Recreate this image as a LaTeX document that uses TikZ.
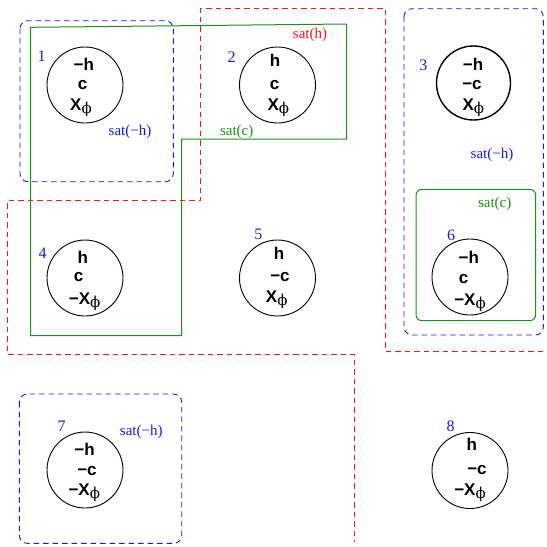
\documentclass[tikz,border=0pt]{standalone}
\usepackage{fontspec}
\setmainfont{Liberation Serif}
\newfontfamily\hvfont{Liberation Sans}
\newfontfamily\phfont{DejaVu Serif}
\definecolor{setblue}{RGB}{25,25,230}
\definecolor{setred}{RGB}{255,20,20}
\definecolor{setgreen}{RGB}{20,150,20}
\newcommand\Xph{X\raisebox{-3pt}{\mdseries\phfont\fontsize{15}{15}\selectfont ϕ}}
\newcommand\mn{−}
\tikzset{
  x=1pt, y=-1pt,
  state/.style={draw=black, line width=0.9pt},
  lit/.style={anchor=base, inner sep=0pt, font=\hvfont\bfseries\fontsize{17}{17}\selectfont},
  num/.style={inner sep=0pt, text=setblue, font=\fontsize{16}{16}\selectfont},
  satlabel/.style={inner sep=0pt, font=\fontsize{15}{15}\selectfont},
  dashbox/.style={dash pattern=on 5.5pt off 4pt, line width=0.9pt},
  negh/.style={dashbox, draw=setblue, rounded corners=8pt},
  posh/.style={dashbox, draw=setred},
  posc/.style={draw=setgreen, line width=1pt}
}
\begin{document}
\begin{tikzpicture}
\useasboundingbox (0,0) rectangle (547,547);
% states
\draw[state] (85,85) circle[radius=38pt];
\draw[state] (277.5,85) circle[radius=38pt];
\draw[state, line width=1.4pt] (473.5,83) circle[radius=37pt];
\draw[state] (85,278) circle[radius=38pt];
\draw[state] (277.5,278) circle[radius=38pt];
\draw[state] (470,277) circle[radius=38pt];
\draw[state] (85,470) circle[radius=38pt];
\draw[state] (470,470.5) circle[radius=38pt];
% state numbers
\node[num] (n1) at (41.7,56.7) {1};
\node[num] (n2) at (231.7,56.7) {2};
\node[num] (n3) at (423.3,65) {3};
\node[num] (n4) at (42.7,253.3) {4};
\node[num] (n5) at (258.3,234) {5};
\node[num] (n6) at (451,235) {6};
\node[num] (n7) at (61.7,426.7) {7};
\node[num] (n8) at (450.7,426.7) {8};
% labels of state 1
\node[lit] (a1) at (83.8,70) {\mn h};
\node[lit] (b1) at (82.5,89.3) {c};
\node[lit] (c1) at (81,110) {\Xph};
% state 2
\node[lit] (a2) at (275,66) {h};
\node[lit] (b2) at (274.7,89.3) {c};
\node[lit] (c2) at (278.3,110) {\Xph};
% state 3
\node[lit] (a3) at (473,70) {\mn h};
\node[lit] (b3) at (472,89.3) {\mn c};
\node[lit] (c3) at (473.3,110) {\Xph};
% state 4
\node[lit] (a4) at (82.7,263.3) {h};
\node[lit] (b4) at (78.7,281.7) {c};
\node[lit] (c4) at (84.7,304) {\mn\Xph};
% state 5
\node[lit] (a5) at (279,259) {h};
\node[lit] (b5) at (280,281.7) {\mn c};
\node[lit] (c5) at (276.7,302.7) {\Xph};
% state 6
\node[lit] (a6) at (468.8,263.3) {\mn h};
\node[lit] (b6) at (463.7,283.3) {c};
\node[lit] (c6) at (470,305) {\mn\Xph};
% state 7
\node[lit] (a7) at (84.5,455) {\mn h};
\node[lit] (b7) at (87,475) {\mn c};
\node[lit] (c7) at (84.3,495) {\mn\Xph};
% state 8
\node[lit] (a8) at (471.7,450.7) {h};
\node[lit] (b8) at (477,474) {\mn c};
\node[lit] (c8) at (470,495) {\mn\Xph};
% sat(-h) regions
\draw[negh] (20,20.7) rectangle (173.3,181.7);
\draw[negh] (404,8.7) rectangle (543.3,335);
\draw[negh] (19.3,394) rectangle (181.7,543.3);
% sat(h) region
\draw[posh] (543.3,351) -- (385,351) -- (385,8.3) -- (200.7,8.3) -- (200.7,200.7)
  -- (7.3,200.7) -- (7.3,354.3) -- (354.3,354.3) -- (354.3,542);
% sat(c) regions
\draw[posc] (30.7,27.3) -- (346.7,24) -- (346.7,139) -- (181.7,139) -- (181.7,335.7)
  -- (30.7,335.7) -- cycle;
\draw[posc, rounded corners=6pt] (416,189.3) rectangle (535.7,320.7);
% region labels
\node[satlabel, text=setblue] (s1) at (130,131.7) {sat(\mn h)};
\node[satlabel, text=setred] (s2) at (310,35) {sat(h)};
\node[satlabel, text=setgreen] (s3) at (236.7,131.7) {sat(c)};
\node[satlabel, text=setblue] (s4) at (492,155) {sat(\mn h)};
\node[satlabel, text=setgreen] (s5) at (494.7,204) {sat(c)};
\node[satlabel, text=setblue] (s6) at (141.3,431.7) {sat(\mn h)};
\end{tikzpicture}
\end{document}
